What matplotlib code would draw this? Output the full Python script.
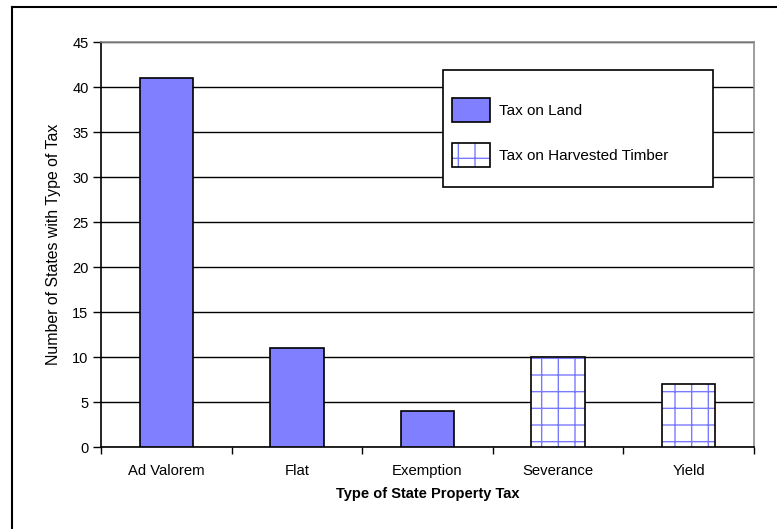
import matplotlib.pyplot as plt
from matplotlib.patches import Rectangle, Patch
from matplotlib.lines import Line2D
from matplotlib.legend_handler import HandlerTuple

plt.rcParams['font.family'] = ['Liberation Sans', 'DejaVu Sans']
plt.rcParams['hatch.linewidth'] = 1.0

# data
categories = ['Ad Valorem', 'Flat', 'Exemption', 'Severance', 'Yield']
tax_land = [41, 11, 4, None, None]
tax_timber = [None, None, None, 10, 7]
series_labels = ['Tax on Land', 'Tax on Harvested Timber']

land_color = '#7f7fff'
hatch_color = '#7a7aff'

fig = plt.figure(figsize=(7.77, 5.29), dpi=100)
ax = fig.add_axes([0.130, 0.155, 0.8404, 0.7656])

x = list(range(len(categories)))
w = 0.41

# tax on land bars
for i, v in enumerate(tax_land):
    if v is not None:
        ax.bar(i, v, w, color=land_color, edgecolor='black', linewidth=1.2, zorder=3)

# tax on harvested timber bars (hatched)
for i, v in enumerate(tax_timber):
    if v is not None:
        ax.bar(i, v, w, color='white', edgecolor=hatch_color, hatch='+', linewidth=0, zorder=3)
        ax.bar(i, v, w, color='none', edgecolor='black', linewidth=1.2, zorder=4)

ax.set_xlim(-0.5, len(categories) - 0.5)
ax.set_ylim(0, 45)
ax.set_yticks(range(0, 46, 5))
ax.set_xticks(x)
ax.set_xticklabels(categories)
ax.set_xticks([i - 0.5 for i in range(len(categories) + 1)], minor=True)
ax.tick_params(axis='x', which='major', length=0, pad=12, labelsize=10.7)
ax.tick_params(axis='x', which='minor', length=5, width=1, direction='out')
ax.tick_params(axis='y', length=6, width=1, direction='out', labelsize=10.5, pad=3)

ax.yaxis.grid(True, color='black', linewidth=1, zorder=0)
ax.set_axisbelow(True)

for s in ['top', 'right']:
    ax.spines[s].set_color('#8c8c8c')
    ax.spines[s].set_linewidth(1.2)
for s in ['left', 'bottom']:
    ax.spines[s].set_color('black')
    ax.spines[s].set_linewidth(1.2)

ax.set_xlabel('Type of State Property Tax', fontsize=10.5, fontweight='bold', labelpad=7)
ax.set_ylabel('Number of States with Type of Tax', fontsize=11.4, labelpad=8)

# legend box
ax.add_patch(Rectangle((0.524, 0.642), 0.413, 0.289, transform=ax.transAxes,
                       facecolor='white', edgecolor='black', linewidth=1.2, zorder=5))
h_land = Patch(facecolor=land_color, edgecolor='black', linewidth=1.2)
h_t1 = Patch(facecolor='white', edgecolor=hatch_color, hatch='+', linewidth=0)
h_t2 = Patch(facecolor='none', edgecolor='black', linewidth=1.2)
leg = ax.legend([h_land, (h_t1, h_t2)], series_labels,
                handler_map={tuple: HandlerTuple(ndivide=1, pad=0)},
                loc='upper left', bbox_to_anchor=(0.526, 0.88), frameon=False,
                fontsize=11, handlelength=2.45, handleheight=2.0,
                labelspacing=1.4, handletextpad=0.6, borderpad=0)
leg.set_zorder(6)

# outer chart border
fig.add_artist(Line2D([12 / 777, 12 / 777], [0, 1 - 7 / 529], transform=fig.transFigure,
                      color='black', linewidth=1.5))
fig.add_artist(Line2D([12 / 777, 1], [1 - 7 / 529, 1 - 7 / 529], transform=fig.transFigure,
                      color='black', linewidth=1.5))

fig.savefig('out.png', dpi=100)
